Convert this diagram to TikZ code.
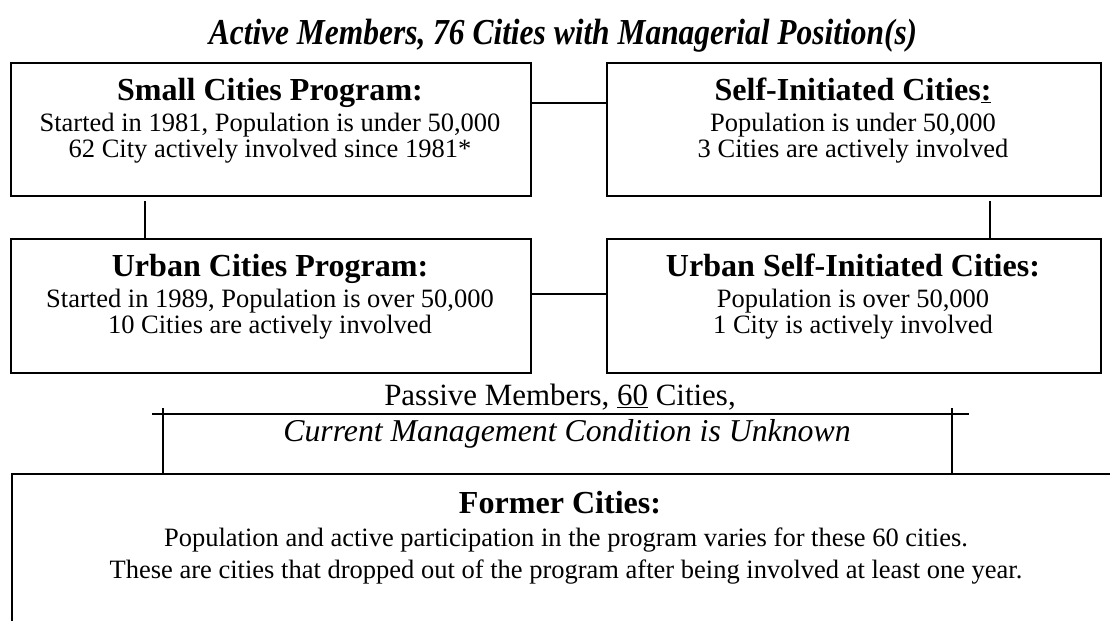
\documentclass[tikz,border=0pt]{standalone}
\usepackage{fontspec}
\setmainfont{Liberation Serif}
\newfontfamily\narrowfont[FakeStretch=0.86]{Liberation Serif}
\usetikzlibrary{positioning}

\tikzset{
  box/.style={draw, line width=1.4pt, anchor=north west, inner sep=0pt},
  link/.style={line width=1.4pt},
  head/.style={anchor=base, inner sep=0pt, font=\fontsize{22.8}{24}\selectfont\bfseries},
  body/.style={anchor=base, inner sep=0pt, font=\fontsize{18.85}{20}\selectfont},
}

\begin{document}
\begin{tikzpicture}[x=0.025cm, y=-0.025cm]
        \path[use as bounding box, clip] (0,0) rectangle (1110,620);

        \node[anchor=base, inner sep=0pt, font=\fontsize{26}{28}\selectfont\narrowfont\bfseries\itshape]
        (ttl) at (563,44) {Active Members, 76 Cities with Managerial Position(s)};

        % upper row of programs
        \node[box, minimum width=520*0.025cm, minimum height=133*0.025cm] (small) at (10,62) {};
        \node[box, minimum width=494*0.025cm, minimum height=133*0.025cm] (self) at (606,62) {};
        \node[head] (smallHd) at (270,100) {Small Cities Program:};
        \node[body] (smallA) at (270,131) {Started in 1981, Population is under 50,000};
        \node[body] (smallB) at (270,157) {62 City actively involved since 1981*};
        \node[head] (selfHd) at (853,100) {Self-Initiated Cities\underline{:}};
        \node[body] (selfA) at (853,131) {Population is under 50,000};
        \node[body] (selfB) at (853,157) {3 Cities are actively involved};

        % lower row of programs
        \node[box, minimum width=520*0.025cm, minimum height=134*0.025cm] (urban) at (10,238) {};
        \node[box, minimum width=494*0.025cm, minimum height=134*0.025cm] (urbself) at (606,238) {};
        \node[head] (urbanHd) at (270,276) {Urban Cities Program:};
        \node[body] (urbanA) at (270,307) {Started in 1989, Population is over 50,000};
        \node[body] (urbanB) at (270,333) {10 Cities are actively involved};
        \node[head] (urbselfHd) at (853,276) {Urban Self-Initiated Cities:};
        \node[body] (urbselfA) at (853,307) {Population is over 50,000};
        \node[body] (urbselfB) at (853,333) {1 City is actively involved};

        \coordinate (rowA) at (0,103);
        \coordinate (rowB) at (0,294);
        \coordinate (colL) at (145,0);
        \coordinate (colR) at (990,0);
        \draw[link] (small.east |- rowA) -- (self.west |- rowA);
        \draw[link] (urban.east |- rowB) -- (urbself.west |- rowB);
        \draw[link, shorten <=1mm] (small.south -| colL) -- (urban.north -| colL);
        \draw[link, shorten <=1mm] (self.south -| colR) -- (urbself.north -| colR);

        % passive members and former cities
        \node[anchor=base, inner sep=0pt, font=\fontsize{22}{24}\selectfont]
        (passive) at (560,405) {Passive Members, \underline{60} Cities,};
        \node[anchor=base, inner sep=0pt, font=\fontsize{22.6}{24}\selectfont\itshape]
        (unknown) at (567,441) {Current Management Condition is Unknown};

        \node[box, minimum width=1200*0.025cm, minimum height=300*0.025cm] (former) at (11,473) {};
        \node[head] (formerHd) at (560,513) {Former Cities:};
        \node[body] (formerA) at (566,546) {Population and active participation in the program varies for these 60 cities.};
        \node[body] (formerB) at (566,578) {These are cities that dropped out of the program after being involved at least one year.};

        \coordinate (barL) at (152,414);
        \coordinate (barR) at (969,414);
        \coordinate (tickL) at (163,408);
        \coordinate (tickR) at (952,408);
        \draw[link] (barL) -- (barR);
        \draw[link] (tickL) -- (tickL |- former.north);
        \draw[link] (tickR) -- (tickR |- former.north);
\end{tikzpicture}
\end{document}
